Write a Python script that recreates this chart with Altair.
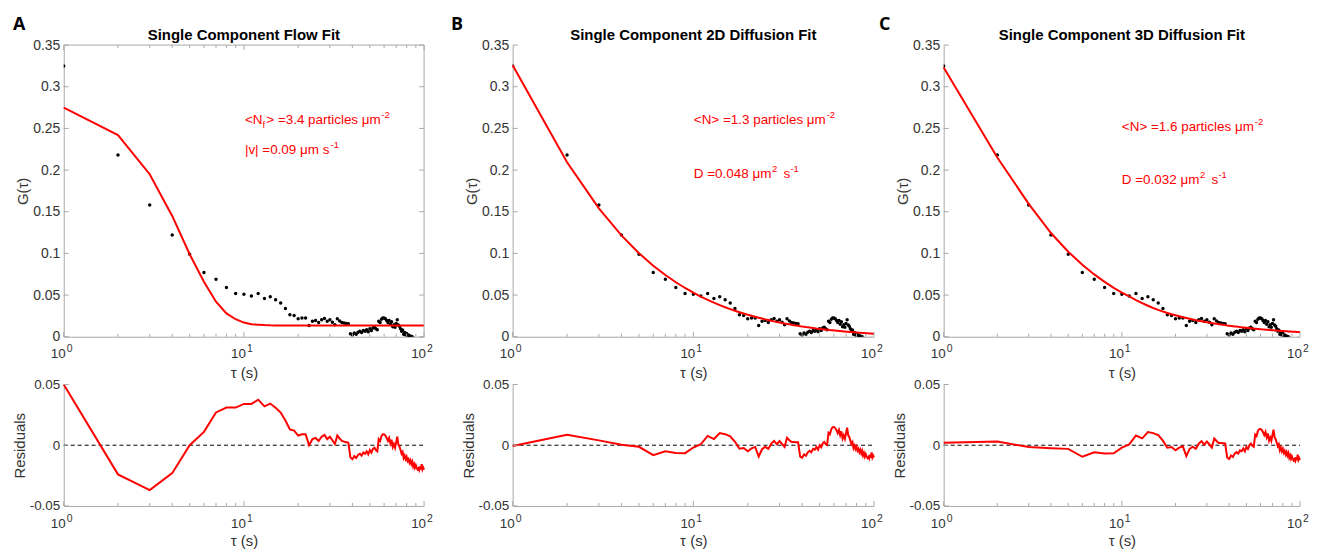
import altair as alt
import pandas as pd

# ---------------- data ----------------
tau = list(range(1, 101))

g_data = [
    0.325, 0.218, 0.158, 0.122, 0.099, 0.077, 0.069, 0.059, 0.052, 0.051,
    0.049, 0.052, 0.046, 0.048, 0.0445, 0.0405, 0.034, 0.0265, 0.0255, 0.0215,
    0.0225, 0.0225, 0.0135, 0.0185, 0.0195, 0.017, 0.0205, 0.022, 0.0185, 0.0205,
    0.0175, 0.0145, 0.0215, 0.019, 0.017, 0.0165, 0.016, 0.0155, 0.0035, 0.002,
    0.0045, 0.003, 0.0055, 0.0065, 0.005, 0.0075, 0.0065, 0.0085, 0.006, 0.0095,
    0.0075, 0.0105, 0.0115, 0.0095, 0.0085, 0.0185, 0.017, 0.021, 0.0225, 0.0225,
    0.0215, 0.0195, 0.017, 0.0195, 0.015, 0.018, 0.012, 0.0145, 0.0115, 0.016,
    0.0205, 0.014, 0.0125, 0.0095, 0.0065, 0.008, 0.003, 0.005, 0.002, 0.004,
    0.0005, 0.002, -0.001, 0.001, -0.002, 0.0, -0.004, -0.002, -0.005, -0.003,
    -0.005, -0.0065, -0.0055, -0.007, -0.004, -0.0065, -0.002, -0.0065, -0.005, -0.0065,
]

fit_flow = [
    0.275, 0.242, 0.195, 0.145, 0.099, 0.066, 0.042, 0.028, 0.021, 0.017,
    0.015, 0.0145, 0.014, 0.0137, 0.0136, 0.0136, 0.0136, 0.0135, 0.0135, 0.0135,
    0.0135, 0.0135, 0.0135, 0.0135, 0.0135, 0.0135, 0.0135, 0.0135, 0.0135, 0.0135,
    0.0135, 0.0135, 0.0135, 0.0135, 0.0135, 0.0135, 0.0135, 0.0135, 0.0135, 0.0135,
    0.0135, 0.0135, 0.0135, 0.0135, 0.0135, 0.0135, 0.0135, 0.0135, 0.0135, 0.0135,
    0.0135, 0.0135, 0.0135, 0.0135, 0.0135, 0.0135, 0.0135, 0.0135, 0.0135, 0.0135,
    0.0135, 0.0135, 0.0135, 0.0135, 0.0135, 0.0135, 0.0135, 0.0135, 0.0135, 0.0135,
    0.0135, 0.0135, 0.0135, 0.0135, 0.0135, 0.0135, 0.0135, 0.0135, 0.0135, 0.0135,
    0.0135, 0.0135, 0.0135, 0.0135, 0.0135, 0.0135, 0.0135, 0.0135, 0.0135, 0.0135,
    0.0135, 0.0135, 0.0135, 0.0135, 0.0135, 0.0135, 0.0135, 0.0135, 0.0135, 0.0135,
]

fit_2d = [
    0.3257, 0.2094, 0.1540, 0.1216, 0.1003, 0.0852, 0.0740, 0.0654, 0.0585, 0.0529,
    0.0482, 0.0443, 0.0409, 0.0380, 0.0354, 0.0332, 0.0312, 0.0294, 0.0278, 0.0264,
    0.0251, 0.0239, 0.0228, 0.0218, 0.0208, 0.0200, 0.0192, 0.0184, 0.0177, 0.0171,
    0.0165, 0.0159, 0.0154, 0.0149, 0.0144, 0.0139, 0.0135, 0.0131, 0.0127, 0.0123,
    0.0120, 0.0116, 0.0113, 0.0110, 0.0107, 0.0105, 0.0102, 0.0099, 0.0097, 0.0095,
    0.0092, 0.0090, 0.0088, 0.0086, 0.0084, 0.0082, 0.0080, 0.0079, 0.0077, 0.0075,
    0.0074, 0.0072, 0.0071, 0.0069, 0.0068, 0.0066, 0.0065, 0.0064, 0.0063, 0.0061,
    0.0060, 0.0059, 0.0058, 0.0057, 0.0056, 0.0055, 0.0054, 0.0053, 0.0052, 0.0051,
    0.0050, 0.0049, 0.0048, 0.0047, 0.0047, 0.0046, 0.0045, 0.0044, 0.0044, 0.0043,
    0.0042, 0.0041, 0.0041, 0.0040, 0.0039, 0.0039, 0.0038, 0.0037, 0.0037, 0.0036,
]

fit_3d = [
    0.3230, 0.2150, 0.1595, 0.1245, 0.1020, 0.0865, 0.0748, 0.0658, 0.0587, 0.0530,
    0.0483, 0.0440, 0.0403, 0.0372, 0.0345, 0.0322, 0.0302, 0.0285, 0.0270, 0.0257,
    0.0245, 0.0234, 0.0224, 0.0215, 0.0207, 0.0199, 0.0192, 0.0186, 0.0180, 0.0174,
    0.0169, 0.0164, 0.0159, 0.0155, 0.0151, 0.0147, 0.0143, 0.0140, 0.0136, 0.0133,
    0.0130, 0.0127, 0.0124, 0.0122, 0.0119, 0.0117, 0.0114, 0.0112, 0.0110, 0.0108,
    0.0106, 0.0104, 0.0102, 0.0100, 0.0098, 0.0097, 0.0095, 0.0094, 0.0092, 0.0091,
    0.0089, 0.0088, 0.0087, 0.0085, 0.0084, 0.0083, 0.0082, 0.0081, 0.0079, 0.0078,
    0.0077, 0.0076, 0.0075, 0.0074, 0.0073, 0.0072, 0.0071, 0.0070, 0.0070, 0.0069,
    0.0068, 0.0067, 0.0066, 0.0066, 0.0065, 0.0064, 0.0063, 0.0063, 0.0062, 0.0061,
    0.0061, 0.0060, 0.0059, 0.0059, 0.0058, 0.0058, 0.0057, 0.0056, 0.0056, 0.0055,
]

panel_letters = ["A", "B", "C"]
panel_titles = [
    "Single Component Flow Fit",
    "Single Component 2D Diffusion Fit",
    "Single Component 3D Diffusion Fit",
]
annot_texts = [
    [["<N", "f", "> =3.4 particles μm", "-2"], ["|v| =0.09 μm s", "-1"]],
    [["<N> =1.3 particles μm", "-2"], ["D =0.048 μm", "2", "s", "-1"]],
    [["<N> =1.6 particles μm", "-2"], ["D =0.032 μm", "2", "s", "-1"]],
]

x_major = [1, 10, 100]
x_tick_base = ["10", "10", "10"]
x_tick_exp = ["0", "1", "2"]
x_minor = [2, 3, 4, 5, 6, 7, 8, 9, 20, 30, 40, 50, 60, 70, 80, 90]
g_ticks = [0, 0.05, 0.1, 0.15, 0.2, 0.25, 0.3, 0.35]
res_ticks = [-0.05, 0, 0.05]

# ---------------- layout / style ----------------
FONT = "Liberation Sans"
AXIS_GRAY = "#a8a8a8"
TEXT_GRAY = "#333333"
RED = "#ff0000"
TOP_H = 293
RES_H = 122
WIDTHS = [362, 363, 358]
GAPS = [89, 70]
ANNOT_POS = [
    [[(0, 0, 13.5), (17.6, 4, 9.5), (21.5, 0, 13.5), (137, -6, 9.5)],
     [(0, 30, 13.5), (86, 24, 9.5)]],
    [[(0, 0, 13.5), (133.5, -6, 9.5)],
     [(0, 55, 13.5), (78.5, 49, 9.5), (90, 55, 13.5), (97, 49, 9.5)]],
    [[(0, 0, 13.5), (133.5, -6, 9.5)],
     [(0, 54, 13.5), (78.5, 48, 9.5), (90, 54, 13.5), (97, 48, 9.5)]],
]
ANNOT_ORIGIN = [(182, 79), (182, 79), (179, 86)]
LETTER_X = [-51, -62, -65]


def text_layer(txt, x, y, size, color, weight="normal", align="left", font=FONT):
    return alt.Chart(pd.DataFrame({"t": [txt]})).mark_text(
        align=align, baseline="alphabetic", fontSize=size, font=font,
        fontWeight=weight, color=color,
    ).encode(text="t:N", x=alt.value(x), y=alt.value(y))


def xtick_layer(vals, xs, xaxis, y0, y1):
    return alt.Chart(pd.DataFrame({"tau": vals})).mark_rule(
        color=AXIS_GRAY, strokeWidth=1
    ).encode(x=alt.X("tau:Q", scale=xs, axis=xaxis), y=alt.value(y0), y2=alt.value(y1))


def ytick_layer(vals, field, ys, yaxis, x0, x1):
    return alt.Chart(pd.DataFrame({field: vals})).mark_rule(
        color=AXIS_GRAY, strokeWidth=1
    ).encode(y=alt.Y(f"{field}:Q", scale=ys, axis=yaxis), x=alt.value(x0), x2=alt.value(x1))


def xlabel_layers(xs, xaxis, base_y, sup_y):
    d = pd.DataFrame({"tau": x_major, "base": x_tick_base, "exp": x_tick_exp})
    c = alt.Chart(d)
    base_lbl = c.mark_text(
        align="right", baseline="alphabetic", dx=2, fontSize=13.5, font=FONT, color=TEXT_GRAY
    ).encode(x=alt.X("tau:Q", scale=xs, axis=xaxis), y=alt.value(base_y), text="base:N")
    sup_lbl = c.mark_text(
        align="left", baseline="alphabetic", dx=3, fontSize=10.5, font=FONT, color=TEXT_GRAY
    ).encode(x=alt.X("tau:Q", scale=xs, axis=xaxis), y=alt.value(sup_y), text="exp:N")
    return [base_lbl, sup_lbl]


def make_panel(i, fit):
    W = WIDTHS[i]
    df = pd.DataFrame({"tau": tau, "g": g_data, "fit": fit})
    df["res"] = df["g"] - df["fit"]

    xs = alt.Scale(type="log", domain=[1, 100], nice=False)
    ys = alt.Scale(domain=[0, 0.35], nice=False, zero=False)
    yr = alt.Scale(domain=[-0.05, 0.05], nice=False, zero=False)

    xaxis_top = alt.Axis(values=x_major, labels=False, title="τ (s)", titlePadding=29)
    yaxis_top = alt.Axis(values=g_ticks, format="~g", title="G(τ)",
                         labelPadding=4, titlePadding=2, labelFontSize=14)
    xaxis_res = alt.Axis(values=x_major, labels=False, title="τ (s)", titlePadding=28)
    yaxis_res = alt.Axis(values=res_ticks, format="~g",
                         labelExpr="replace(datum.label, '\u2212', '-')",
                         title="Residuals", labelPadding=4, titlePadding=2,
                         labelFontSize=13.5)

    base = alt.Chart(df)
    pts = base.mark_circle(size=12, color="black", opacity=1, clip=True).encode(
        x=alt.X("tau:Q", scale=xs, axis=xaxis_top),
        y=alt.Y("g:Q", scale=ys, axis=yaxis_top),
    )
    fit_line = base.mark_line(color=RED, strokeWidth=2).encode(
        x=alt.X("tau:Q", scale=xs, axis=xaxis_top),
        y=alt.Y("fit:Q", scale=ys, axis=yaxis_top),
    )
    layers = [
        pts,
        fit_line,
        xtick_layer(x_major, xs, xaxis_top, TOP_H, TOP_H - 5),
        xtick_layer(x_minor, xs, xaxis_top, TOP_H, TOP_H - 3),
        ytick_layer(g_ticks, "g", ys, yaxis_top, 0, 5),
    ] + xlabel_layers(xs, xaxis_top, TOP_H + 21, TOP_H + 15)
    if i == 0:
        box = alt.Chart(pd.DataFrame({"k": [0]}))
        layers += [
            box.mark_rule(color=AXIS_GRAY).encode(x=alt.value(0), x2=alt.value(W), y=alt.value(0)),
            box.mark_rule(color=AXIS_GRAY).encode(x=alt.value(W), y=alt.value(0), y2=alt.value(TOP_H)),
            xtick_layer(x_major, xs, xaxis_top, 0, 5),
            xtick_layer(x_minor, xs, xaxis_top, 0, 3),
            ytick_layer(g_ticks, "g", ys, yaxis_top, W - 5, W),
        ]
    layers.append(text_layer(panel_titles[i], W / 2, -5, 15, "black", weight="bold", align="center"))
    layers.append(text_layer(panel_letters[i], LETTER_X[i], -15, 18, "black", weight="bold", font="Open Sans"))
    ox, oy = ANNOT_ORIGIN[i]
    for line_txt, line_pos in zip(annot_texts[i], ANNOT_POS[i]):
        for txt, (dx, dy, sz) in zip(line_txt, line_pos):
            layers.append(text_layer(txt, ox + dx, oy + dy, sz, RED))

    top = alt.layer(*layers).properties(width=W, height=TOP_H)

    res_line = base.mark_line(color=RED, strokeWidth=2).encode(
        x=alt.X("tau:Q", scale=xs, axis=xaxis_res),
        y=alt.Y("res:Q", scale=yr, axis=yaxis_res),
    )
    zero = alt.Chart(pd.DataFrame({"res": [0]})).mark_rule(
        color="black", strokeDash=[4, 3], strokeWidth=1
    ).encode(y=alt.Y("res:Q", scale=yr, axis=yaxis_res), x=alt.value(0), x2=alt.value(W))
    bottom = alt.layer(
        zero,
        res_line,
        xtick_layer(x_major, xs, xaxis_res, RES_H, RES_H - 5),
        xtick_layer(x_minor, xs, xaxis_res, RES_H, RES_H - 3),
        ytick_layer(res_ticks, "res", yr, yaxis_res, 0, 5),
        *xlabel_layers(xs, xaxis_res, RES_H + 22, RES_H + 16),
    ).properties(width=W, height=RES_H)
    return top, bottom


def spacer(w, h):
    return alt.Chart(pd.DataFrame({"k": [0]})).mark_point(opacity=0).encode(
        x=alt.value(0), y=alt.value(0)
    ).properties(width=w, height=h)


tA, bA = make_panel(0, fit_flow)
tB, bB = make_panel(1, fit_2d)
tC, bC = make_panel(2, fit_3d)

chart = alt.concat(
    tA, spacer(GAPS[0], 10), tB, spacer(GAPS[1], 10), tC,
    bA, spacer(GAPS[0], 10), bB, spacer(GAPS[1], 10), bC,
    columns=5,
    spacing={"row": 48, "column": 0},
    align="each",
    bounds="flush",
).properties(
    padding={"left": 4, "top": 7, "right": 0, "bottom": 0}
).configure_view(
    stroke=None
).configure_axis(
    labelFont=FONT, labelColor=TEXT_GRAY, titleFont=FONT, titleFontSize=15,
    titleFontWeight="normal", titleColor=TEXT_GRAY, domainColor=AXIS_GRAY,
    ticks=False, grid=False,
)

chart.save("out.html", embed_options={"renderer": "svg", "actions": False})
